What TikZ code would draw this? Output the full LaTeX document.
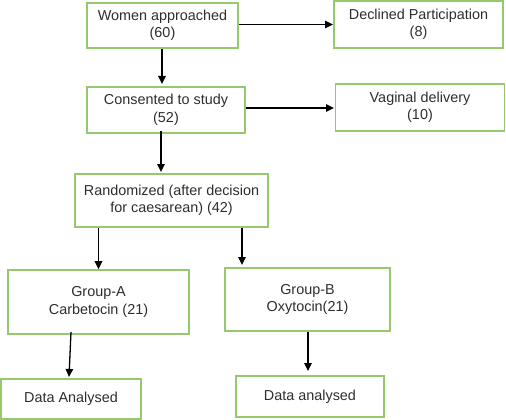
\documentclass[tikz,border=0pt]{standalone}
\usepackage{fontspec}
\setmainfont{Liberation Sans}
\usetikzlibrary{arrows.meta,calc}
\definecolor{boxgreen}{RGB}{150,200,112}
\definecolor{txtgray}{RGB}{45,45,45}
\begin{document}
\begin{tikzpicture}[x=1pt,y=-1pt,
  fbox/.style={draw=boxgreen,line width=1.6pt,inner sep=0pt,align=center,
    text=txtgray,font=\fontsize{14.4}{17.5}\selectfont},
  arr/.style={draw=black,line width=1.3pt,-{Triangle[length=8pt,width=7.5pt]}}]
\useasboundingbox (0,0) rectangle (506,420);
\node[fbox,minimum width=151pt,minimum height=45pt] (b1) at (162.5,25.5) {Women approached\\(60)};
\node[fbox,minimum width=169pt,minimum height=47pt] (b2) at (418.5,24.5) {Declined Participation\\(8)};
\node[fbox,minimum width=158pt,minimum height=46pt] (b3) at (166,110) {Consented to study\\(52)};
\node[fbox,minimum width=169pt,minimum height=47pt] (b4) at (420,107.5) {Vaginal delivery\\(10)};
\node[fbox,minimum width=193pt,minimum height=53pt] (b5) at (171.5,200.5) {Randomized (after decision\\for caesarean) (42)};
\node[fbox,minimum width=181pt,minimum height=64pt] (b6) at (98.5,302) {Group-A\\Carbetocin (21)};
\node[fbox,minimum width=165pt,minimum height=63pt] (b7) at (307.5,299.5) {Group-B\\Oxytocin(21)};
\node[fbox,minimum width=140pt,minimum height=40pt] (b8) at (71,399) {Data Analysed};
\node[fbox,minimum width=148pt,minimum height=41pt] (b9) at (310,396.5) {Data analysed};
% free ends
\coordinate (t12) at (333,24.5);
\coordinate (t13) at (162,84);
\coordinate (t34) at (334,108);
\coordinate (t35) at (161,172);
\coordinate (t57) at (242,265);
\coordinate (t68) at (69,377);
\coordinate (t79) at (308,371);
\draw[arr] (b1.east |- t12) -- (t12);
\draw[arr] (b1.south -| t13) -- (t13);
\draw[arr] (b3.east |- t34) -- (t34);
\draw[arr] ([yshift=3pt]b3.south -| t35) -- (t35);
\draw[arr] (b5.south -| b6.north) -- (b6.north);
\draw[arr] (b5.south -| t57) -- (t57);
\draw[arr] ([yshift=3pt]b6.south -| 71,0) -- (t68);
\draw[arr] (b7.south -| t79) -- (t79);
\end{tikzpicture}
\end{document}
